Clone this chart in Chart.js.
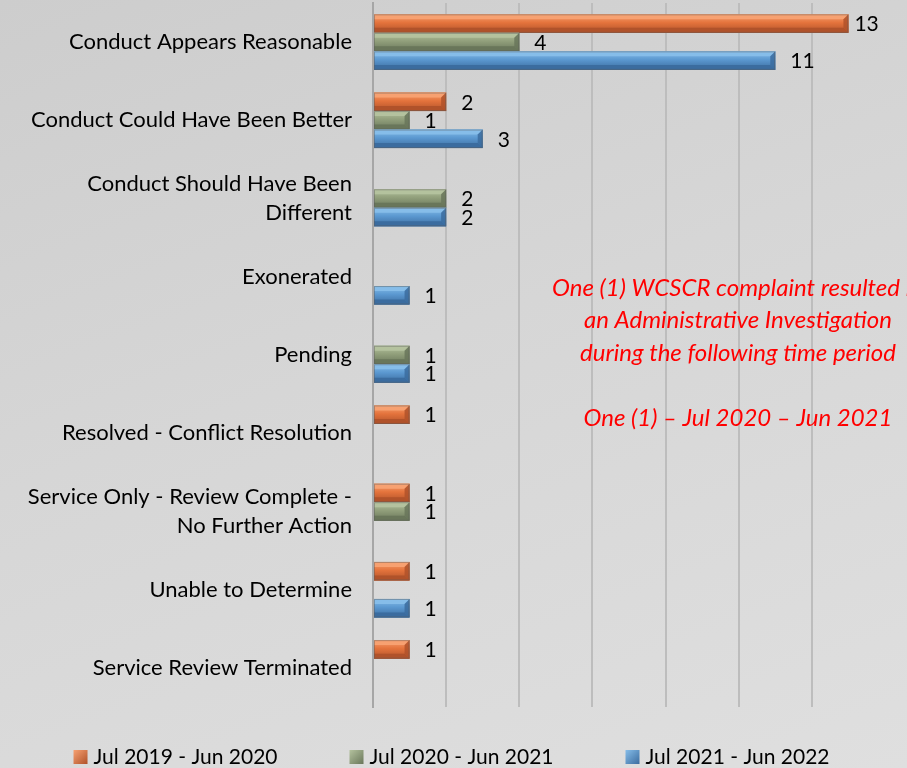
<!DOCTYPE html>
<html>
<head>
<meta charset="utf-8">
<script src="https://cdn.jsdelivr.net/npm/chart.js@4"></script>
<style>
  html, body { margin: 0; padding: 0; }
  body {
    width: 907px; height: 768px; overflow: hidden;
    background: linear-gradient(160deg, #cdcdcd 0%, #d6d6d6 45%, #dfdfdf 100%);
  }
  canvas { display: block; }
</style>
</head>
<body>
<canvas id="barChart" width="907" height="768"></canvas>
<script>
const categories = [
  'Conduct Appears Reasonable',
  'Conduct Could Have Been Better',
  ['Conduct Should Have Been', 'Different'],
  'Exonerated',
  'Pending',
  'Resolved - Conflict Resolution',
  ['Service Only - Review Complete -', 'No Further Action'],
  'Unable to Determine',
  'Service Review Terminated'
];
const seriesLabels = ['Jul 2019 - Jun 2020', 'Jul 2020 - Jun 2021', 'Jul 2021 - Jun 2022'];
const fy2020 = [13, 2, 0, 0, 0, 1, 1, 1, 1];
const fy2021 = [4, 1, 2, 0, 1, 0, 1, 0, 0];
const fy2022 = [11, 3, 2, 1, 1, 0, 0, 1, 0];
const noteLines = [
  'One (1) WCSCR complaint resulted in',
  'an Administrative Investigation',
  'during the following time period',
  '',
  'One (1) \u2013 Jul 2020 \u2013 Jun 2021'
];

const FONT = 'Lato, Calibri, "Noto Sans", sans-serif';

// light / main / dark for each series
const palette = [
  { light: '#f7a171', main: '#e4733c', dark: '#b0522a' },
  { light: '#b4c29e', main: '#919f7b', dark: '#69765a' },
  { light: '#86bde9', main: '#5b98d0', dark: '#3b6c9f' }
];

// bevel look on top of the plain bars
const bevelPlugin = {
  id: 'bevel',
  afterDatasetsDraw(chart) {
    const ctx = chart.ctx;
    chart.data.datasets.forEach((ds, i) => {
      const meta = chart.getDatasetMeta(i);
      const c = palette[i];
      meta.data.forEach((bar, j) => {
        if (!ds.data[j]) return;
        const p = bar.getProps(['x', 'y', 'base', 'height'], true);
        const left = p.base, right = p.x;
        const top = p.y - p.height / 2, bottom = p.y + p.height / 2;
        const b = Math.min(5, p.height / 3.5);
        ctx.save();
        const g = ctx.createLinearGradient(0, top, 0, bottom);
        g.addColorStop(0, c.light);
        g.addColorStop(0.45, c.main);
        g.addColorStop(1, c.dark);
        ctx.fillStyle = g;
        ctx.fillRect(left, top, right - left, bottom - top);
        // top bevel
        ctx.fillStyle = c.light;
        ctx.beginPath();
        ctx.moveTo(left, top); ctx.lineTo(right, top);
        ctx.lineTo(right - b, top + b); ctx.lineTo(left, top + b);
        ctx.closePath(); ctx.fill();
        // bottom bevel
        ctx.fillStyle = c.dark;
        ctx.beginPath();
        ctx.moveTo(left, bottom); ctx.lineTo(right, bottom);
        ctx.lineTo(right - b, bottom - b); ctx.lineTo(left, bottom - b);
        ctx.closePath(); ctx.fill();
        // right end
        ctx.globalAlpha = 0.85;
        ctx.beginPath();
        ctx.moveTo(right, top); ctx.lineTo(right, bottom);
        ctx.lineTo(right - b, bottom - b); ctx.lineTo(right - b, top + b);
        ctx.closePath(); ctx.fill();
        ctx.globalAlpha = 1;
        ctx.strokeStyle = 'rgba(90,90,90,0.45)';
        ctx.lineWidth = 1;
        ctx.strokeRect(left + 0.5, top + 0.5, right - left - 1, bottom - top - 1);
        ctx.restore();
      });
    });
  }
};

// value labels, legend and the red note
const extrasPlugin = {
  id: 'extras',
  afterDraw(chart) {
    const ctx = chart.ctx;
    ctx.save();
    ctx.font = '21px ' + FONT;
    ctx.fillStyle = '#000';
    ctx.textBaseline = 'middle';
    ctx.textAlign = 'left';
    chart.data.datasets.forEach((ds, i) => {
      chart.getDatasetMeta(i).data.forEach((bar, j) => {
        if (!ds.data[j]) return;
        const off = ds.data[j] >= 13 ? 6 : 15;
        ctx.fillText(String(ds.data[j]), bar.x + off, bar.y + 1);
      });
    });

    // legend
    const box = 14, gap = 6, spacing = 72;
    const widths = chart.data.datasets.map(ds => box + gap + ctx.measureText(ds.label).width);
    const total = widths.reduce((a, w) => a + w, 0) + spacing * (widths.length - 1);
    let x = (chart.width - total) / 2 - 2;
    const ly = 757;
    chart.data.datasets.forEach((ds, i) => {
      const c = palette[i];
      const g = ctx.createLinearGradient(x, ly - box / 2, x + box, ly + box / 2);
      g.addColorStop(0, c.light);
      g.addColorStop(1, c.dark);
      ctx.fillStyle = g;
      ctx.fillRect(x, ly - box / 2, box, box);
      ctx.fillStyle = '#000';
      ctx.fillText(ds.label, x + box + gap, ly);
      x += widths[i] + spacing;
    });

    // note
    ctx.font = 'italic 24px ' + FONT;
    ctx.fillStyle = '#ff0000';
    ctx.textAlign = 'center';
    noteLines.forEach((line, k) => {
      ctx.fillText(line, 738, 288 + k * 32.5);
    });
    ctx.restore();
  }
};

new Chart(document.getElementById('barChart'), {
  type: 'bar',
  data: {
    labels: categories,
    datasets: [
      { label: seriesLabels[0], data: fy2020, backgroundColor: palette[0].main },
      { label: seriesLabels[1], data: fy2021, backgroundColor: palette[1].main },
      { label: seriesLabels[2], data: fy2022, backgroundColor: palette[2].main }
    ]
  },
  options: {
    indexAxis: 'y',
    responsive: false,
    animation: false,
    layout: { padding: { top: 3, right: 22, bottom: 61, left: 0 } },
    datasets: {
      bar: { barPercentage: 1.0, categoryPercentage: 0.71 }
    },
    plugins: {
      legend: { display: false },
      tooltip: { enabled: false }
    },
    scales: {
      x: {
        min: 0,
        max: 14,
        ticks: { display: false, stepSize: 2 },
        border: { display: false },
        grid: {
          drawTicks: false,
          lineWidth: 2,
          color: ctx => (ctx.tick && ctx.tick.value >= 14) ? 'rgba(0,0,0,0)' : '#bdbdbd'
        },
        afterFit: scale => { scale.height = 0; scale.paddingLeft = 0; scale.paddingRight = 0; }
      },
      y: {
        grid: { display: false, drawTicks: false },
        border: { display: true, color: '#a6a6a6', width: 2 },
        ticks: {
          color: '#000',
          padding: 21,
          font: { family: FONT, size: 22, lineHeight: 1.32 }
        },
        afterFit: scale => { scale.width = 373; scale.paddingTop = 0; scale.paddingBottom = 0; }
      }
    }
  },
  plugins: [bevelPlugin, extrasPlugin]
});
</script>
</body>
</html>
